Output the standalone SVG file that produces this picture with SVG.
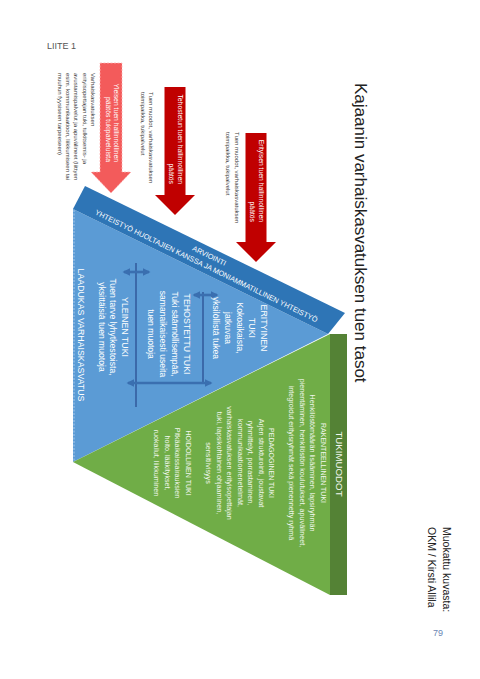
<svg xmlns="http://www.w3.org/2000/svg" width="480" height="679" viewBox="0 0 480 679">
<style>
text{font-family:"Liberation Sans",Arial,sans-serif}
.hd{font-size:8.8px;fill:#fff}
.bd{font-size:8.6px;fill:#fff}
.gh{font-size:7px;fill:#f2f7ee}
.gb{font-size:7.2px;fill:#f2f7ee}
.ar{font-size:6.8px;fill:#fff}
.sd{font-size:6px;fill:#404040}
.bt{font-size:7.3px;fill:#fff}
.dbl{stroke:#3a6fb0;stroke-width:2.6;fill:none;marker-start:url(#ah);marker-end:url(#ah)}
.vl{stroke:#2f5597;stroke-width:1.4}
</style>
<defs>
<marker id="ah" viewBox="0 0 10 10" refX="8" refY="5" markerWidth="3" markerHeight="3" orient="auto-start-reverse">
<path d="M0,0 L10,5 L0,10 z" fill="#3a6fb0"/>
</marker>
</defs>
<rect width="480" height="679" fill="#fff"/>
<text x="47" y="49" style="font-size:9px;fill:#555">LIITE 1</text>
<text x="433" y="636" style="font-size:9px;fill:#6a86b4">79</text>
<text transform="translate(355,83) rotate(90)" style="font-size:17px;fill:#222">Kajaanin varhaiskasvatuksen tuen tasot</text>

<g id="pyramid">
<polygon points="73,209 328,334 73,462" fill="#5b9bd5"/>
<line x1="74" y1="210" x2="74" y2="461" stroke="#a9c9ec" stroke-width="1" stroke-dasharray="2,1.5"/>
<polygon points="73,462 330,334 330,595" fill="#70ad47"/>
<rect x="330" y="334" width="17" height="261" fill="#548235"/>
</g>

<g id="band">
<polygon points="85,186 345,313 328,334 73,209" fill="#2e75b6"/>
<g transform="translate(208,260.6) rotate(26.05)">
<text class="bt" x="-1" y="-2.4" text-anchor="middle">ARVIOINTI</text>
<text class="bt" x="1" y="8.1" text-anchor="middle">YHTEISTYÖ HUOLTAJIEN KANSSA JA MONIAMMATILLINEN YHTEISTYÖ</text>
</g>
</g>

<g id="connectors">
<line class="vl" x1="136" y1="263" x2="136" y2="407"/>
<line class="vl" x1="203" y1="292" x2="203" y2="384"/>
<line class="dbl" x1="124" y1="272" x2="149" y2="272"/>
<line class="dbl" x1="194" y1="295" x2="217" y2="295"/>
<line class="dbl" x1="128" y1="383" x2="211" y2="383"/>
</g>

<g id="arrows">
<polygon id="arrowA" points="100,63 122,63 122,172 131,172 111,193 91,172 100,172" fill="#f35b5b" stroke="#ffb3b3" stroke-width="0.8" stroke-dasharray="2,1.5"/>
<polygon id="arrowB" points="164.5,87 185.5,87 185.5,195 195,195 175,215 155,195 164.5,195" fill="#c00000"/>
<polygon id="arrowC" points="245.5,133 266.5,133 266.5,242 276,242 256,262 236,242 245.5,242" fill="#c00000"/>
</g>

<g id="labelA">
<text class="ar" transform="translate(113.5,162) rotate(90)" text-anchor="end"><tspan x="0" dy="0">Yleisen tuen hallinnollinen</tspan><tspan x="0" dy="7.5">päätös tukipalveluista</tspan></text>
</g>
<g id="labelB">
<text class="ar" transform="translate(177.5,184) rotate(90)" text-anchor="end"><tspan x="0" dy="0">Tehostetun tuen hallinnollinen</tspan><tspan x="0" dy="9">päätös</tspan></text>
</g>
<g id="labelC">
<text class="ar" transform="translate(258.5,222) rotate(90)" text-anchor="end"><tspan x="0" dy="0">Erityisen tuen hallinnollinen</tspan><tspan x="0" dy="9">päätös</tspan></text>
</g>

<g id="sideA">
<text class="sd" transform="translate(91,73) rotate(90)"><tspan x="0" dy="0">Varhaiskasvatuksen</tspan><tspan x="0" dy="8.3">erityisopettajan tuki, tulkitsemis- ja</tspan><tspan x="0" dy="8.3">avustamispalvelut ja apuvälineet (liittyen</tspan><tspan x="0" dy="8.3">esim. kommunikaatioon, liikkumiseen tai</tspan><tspan x="0" dy="8.3">muuhun fyysiseen tarpeeseen)</tspan></text>
</g>
<g id="sideB">
<text class="sd" transform="translate(149,92) rotate(90)"><tspan x="0" dy="0">Tuen muodot, varhaiskasvatuksen</tspan><tspan x="0" dy="8">toimipaikka, tukipalvelut</tspan></text>
</g>
<g id="sideC">
<text class="sd" transform="translate(234.5,132) rotate(90)"><tspan x="0" dy="0">Tuen muodot, varhaiskasvatuksen</tspan><tspan x="0" dy="9">toimipaikka, tukipalvelut</tspan></text>
</g>

<g id="erityinen">
<text transform="translate(261,328) rotate(90)" text-anchor="middle"><tspan class="hd" x="0" dy="0">ERITYINEN</tspan><tspan class="hd" x="0" dy="12">TUKI</tspan><tspan class="bd" x="0" dy="12">Kokoaikaista,</tspan><tspan class="bd" x="0" dy="12">jatkuvaa</tspan><tspan class="bd" x="0" dy="12">yksilöllistä tukea</tspan></text>
</g>
<g id="tehostettu">
<text transform="translate(184,334) rotate(90)" text-anchor="middle"><tspan class="hd" x="0" dy="0">TEHOSTETTU TUKI</tspan><tspan class="bd" x="0" dy="12">Tuki säännöllisempää,</tspan><tspan class="bd" x="0" dy="12">samanaikaisesti useita</tspan><tspan class="bd" x="0" dy="12">tuen muotoja</tspan></text>
</g>
<g id="yleinen">
<text transform="translate(122,327) rotate(90)" text-anchor="middle"><tspan class="hd" x="0" dy="0">YLEINEN TUKI</tspan><tspan class="bd" x="0" dy="11.7">Tuen tarve lyhytkestoista,</tspan><tspan class="bd" x="0" dy="11.7">yksittäisiä tuen muotoja</tspan></text>
</g>
<g id="laadukas">
<text class="hd" transform="translate(78,335) rotate(90)" text-anchor="middle">LAADUKAS VARHAISKASVATUS</text>
</g>

<g id="tukimuodot">
<text transform="translate(335.5,464) rotate(90)" text-anchor="middle" style="font-size:9.7px;fill:#f2f7ee">TUKIMUODOT</text>
</g>
<g id="rakenteellinen">
<text transform="translate(320.5,463) rotate(90)" text-anchor="middle"><tspan class="gh" x="0" dy="0">RAKENTEELLINEN TUKI</tspan><tspan class="gb" x="0" dy="10.5">Henkilöstömäärän lisääminen, lapsiryhmän</tspan><tspan class="gb" x="0" dy="10.5">pienentäminen, henkilöstön koulutukset, apuvälineet,</tspan><tspan class="gb" x="0" dy="10.5">integroidut erityisryhmät sekä pienennetty ryhmä</tspan></text>
</g>
<g id="pedagoginen">
<text transform="translate(269,463) rotate(90)" text-anchor="middle"><tspan class="gh" x="0" dy="0">PEDAGOGINEN TUKI</tspan><tspan class="gb" x="0" dy="10.5">Arjen strukturointi, joustavat</tspan><tspan class="gb" x="0" dy="10.5">ryhmittelyt, porrastaminen,</tspan><tspan class="gb" x="0" dy="10.5">kommunikaatiomenetelmät,</tspan><tspan class="gb" x="0" dy="10.5">varhaiskasvatuksen erityisopettajan</tspan><tspan class="gb" x="0" dy="10.5">tuki, lapsikohtainen ohjaaminen,</tspan><tspan class="gb" x="0" dy="10.5">sensitiivisyys</tspan></text>
</g>
<g id="hoidollinen">
<text transform="translate(185.5,463) rotate(90)" text-anchor="middle"><tspan class="gh" x="0" dy="0">HOIDOLLINEN TUKI</tspan><tspan class="gb" x="0" dy="10.5">Pitkäaikaissairauksien</tspan><tspan class="gb" x="0" dy="10.5">hoito, lääkitykset,</tspan><tspan class="gb" x="0" dy="10.5">ruokailut, liikkuminen</tspan></text>
</g>

<g id="source">
<text transform="translate(443,527) rotate(90)" style="font-size:10.5px;fill:#222"><tspan x="0" dy="0">Muokattu kuvasta:</tspan><tspan x="0" dy="15">OKM / Kirsti Allila</tspan></text>
</g>
</svg>
